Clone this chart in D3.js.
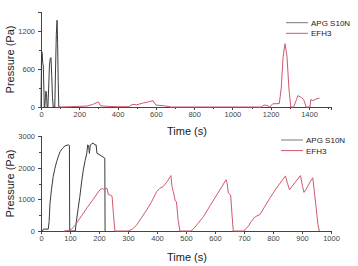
<!DOCTYPE html>
<html>
<head>
<meta charset="utf-8">
<script src="https://cdn.jsdelivr.net/npm/d3@7"></script>
<style>
    body { margin: 0; background: #fff; }
    svg { display: block; font-family: 'Liberation Sans', Arial, sans-serif; }
    .axis path, .axis line { stroke: #444; stroke-width: 1; shape-rendering: crispEdges; }
    .axis text { fill: #444; font-size: 7.5px; }
    .axis-title { fill: #1a1a1a; font-size: 11px; }
    .legend text { fill: #1a1a1a; font-size: 8px; }
</style>
</head>
<body>
<svg width="358" height="266"></svg>
<script>
'use strict';

// series names
var seriesNames = ['APG S10N', 'EFH3'];
var seriesColors = ['#3a3a3a', '#d0596d'];
var legendColors = ['#777777', '#d0596d'];

// top panel: [time (s), pressure (Pa)]
var topApg = [[0, 0], [3, 880], [6, 860], [9, 700], [12, 650], [15, 300], [17, 0], [20, 0], [23, 150], [26, 250],
    [29, 200], [32, 0], [36, 0], [40, 300], [44, 650], [48, 760], [52, 780], [56, 500], [60, 150], [64, 0],
    [72, 0], [76, 600], [80, 1150], [84, 1370], [87, 1000], [90, 400], [93, 0], [100, 0]];

var topEfh = [[90, 0], [150, 5], [200, 10], [240, 15], [270, 40], [300, 80], [310, 20], [350, 10], [400, 5],
    [460, 5], [470, 30], [480, 40], [500, 35], [530, 60], [560, 80], [585, 100], [600, 30], [640, 20], [680, 0],
    [1150, 0], [1165, 30], [1180, 25], [1195, 0], [1210, 50], [1245, 55], [1255, 300], [1265, 800], [1275, 1000],
    [1285, 800], [1295, 300], [1305, 0], [1320, 0], [1335, 120], [1342, 180], [1360, 150], [1372, 120], [1385, 0],
    [1405, 0], [1410, 120], [1420, 100], [1440, 130], [1455, 140]];

// bottom panel
var bottomApg = [[0, 0], [5, 0], [8, 60], [25, 60], [28, 300], [31, 880], [36, 1300], [42, 1720], [48, 1980],
    [54, 2190], [60, 2360], [66, 2510], [74, 2610], [83, 2690], [94, 2720], [98, 2700], [99, 0], [118, 0],
    [122, 300], [128, 700], [134, 1090], [140, 1550], [146, 1930], [152, 2220], [158, 2460], [161, 2720],
    [164, 2700], [167, 2450], [170, 2720], [175, 2750], [180, 2780], [185, 2720], [190, 2720], [193, 2450],
    [200, 2420], [210, 2360], [220, 2300], [221, 0]];

var bottomEfh = [[80, 0], [95, 20], [105, 60], [115, 150], [125, 280], [140, 480], [160, 750], [180, 1000],
    [195, 1200], [205, 1320], [212, 1340], [218, 1300], [222, 1350], [228, 1340], [232, 1150], [240, 1130],
    [245, 1100], [250, 500], [255, 0], [300, 0], [315, 60], [330, 190], [345, 400], [364, 660], [380, 900],
    [399, 1245], [410, 1350], [421, 1400], [435, 1560], [448, 1750], [452, 1400], [456, 1245], [463, 950],
    [467, 925], [473, 340], [479, 0], [515, 0], [525, 60], [537, 190], [560, 450], [583, 800], [606, 1140],
    [625, 1420], [638, 1620], [642, 1500], [646, 1200], [654, 1135], [658, 600], [663, 0], [700, 0], [705, 60],
    [715, 150], [725, 300], [735, 420], [745, 480], [755, 520], [770, 750], [790, 1050], [810, 1330],
    [830, 1580], [843, 1740], [850, 1500], [857, 1300], [865, 1400], [880, 1580], [895, 1750], [902, 1400],
    [907, 1220], [915, 1330], [928, 1550], [937, 1680], [942, 1300], [948, 800], [955, 200], [960, 0]];

// tick values
var topXTicks = d3.range(0, 1600, 100);
var topYTicks = [0, 300, 600, 900, 1200, 1500];
var bottomXTicks = d3.range(0, 1100, 100);
var bottomYTicks = [0, 500, 1000, 1500, 2000, 2500, 3000];

var svg = d3.select('svg');

function drawPanel(opts) {
    var x = d3.scaleLinear().domain(opts.xDomain).range([41, 331]);
    var y = d3.scaleLinear().domain(opts.yDomain).range(opts.yRange);

    var g = svg.append('g');

    // x 轴
    var xAxis = g.append('g')
        .attr('class', 'axis')
        .attr('transform', 'translate(0,' + opts.yRange[0] + ')')
        .call(d3.axisBottom(x).tickValues(opts.xTicks).tickSizeOuter(0).tickSize(3).tickPadding(2)
            .tickFormat(function (d) { return opts.xLabel(d) ? d : ''; }));
    xAxis.selectAll('.tick line').attr('y2', function (d) { return opts.xLabel(d) ? 3 : 2; });

    // y 轴
    var yAxis = g.append('g')
        .attr('class', 'axis')
        .attr('transform', 'translate(41,0)')
        .call(d3.axisLeft(y).tickValues(opts.yTicks).tickSizeOuter(0).tickSize(3).tickPadding(3)
            .tickFormat(function (d) { return opts.yLabel(d) ? d : ''; }));
    yAxis.selectAll('.tick line').attr('x2', function (d) { return opts.yLabel(d) ? -3 : -2; });

    var line = d3.line()
        .x(function (d) { return x(d[0]); })
        .y(function (d) { return y(d[1]); });

    // 曲线
    opts.series.forEach(function (s, i) {
        g.append('path')
            .datum(s)
            .attr('fill', 'none')
            .attr('stroke', seriesColors[i])
            .attr('stroke-width', 1)
            .attr('stroke-linejoin', 'round')
            .attr('d', line);
    });

    // axis titles
    g.append('text')
        .attr('class', 'axis-title')
        .attr('text-anchor', 'middle')
        .attr('transform', 'translate(14,' + (opts.yRange[0] + opts.yRange[1]) / 2 + ') rotate(-90)')
        .text('Pressure (Pa)');

    g.append('text')
        .attr('class', 'axis-title')
        .attr('text-anchor', 'middle')
        .attr('x', 187)
        .attr('y', opts.timeY)
        .text('Time (s)');

    // 图例
    var legend = g.append('g').attr('class', 'legend');
    seriesNames.forEach(function (name, i) {
        var ly = opts.legendY + i * 10.6;
        legend.append('line')
            .attr('x1', opts.legendX).attr('x2', opts.legendX + 22)
            .attr('y1', ly).attr('y2', ly)
            .attr('stroke', legendColors[i]).attr('stroke-width', 1);
        legend.append('text')
            .attr('x', opts.legendX + 25)
            .attr('y', ly + 3)
            .text(name);
    });
}

drawPanel({
    xDomain: [0, 1515], yDomain: [0, 1500], yRange: [107, 12],
    xTicks: topXTicks, yTicks: topYTicks,
    xLabel: function (d) { return d % 200 === 0 && d < 1500; },
    yLabel: function (d) { return d % 600 === 0; },
    series: [topApg, topEfh],
    timeY: 135, legendX: 286, legendY: 22.7
});

drawPanel({
    xDomain: [0, 1000], yDomain: [0, 3000], yRange: [231, 136],
    xTicks: bottomXTicks, yTicks: bottomYTicks,
    xLabel: function (d) { return true; },
    yLabel: function (d) { return d % 1000 === 0; },
    series: [bottomApg, bottomEfh],
    timeY: 261, legendX: 281, legendY: 140
});
</script>
</body>
</html>
